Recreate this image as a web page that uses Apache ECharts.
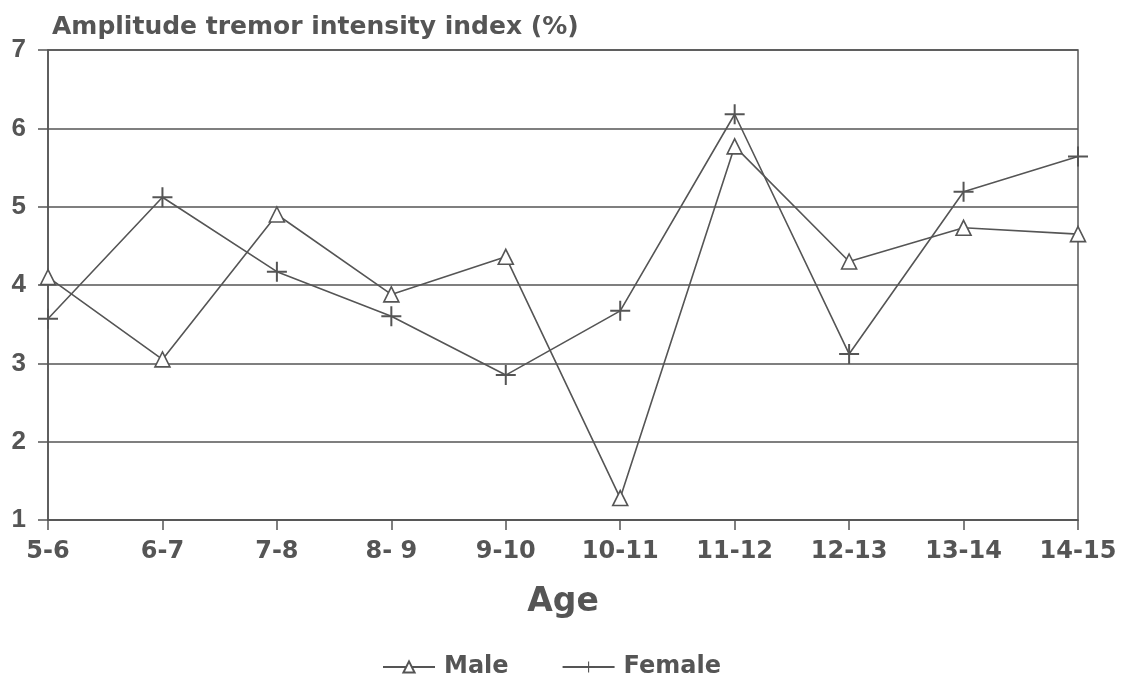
<!DOCTYPE html>
<html>
<head>
<meta charset="utf-8">
<script src="https://cdn.jsdelivr.net/npm/echarts@6/dist/echarts.min.js"></script>
<style>
html,body{margin:0;padding:0;background:#fff;}
#chart{width:1123px;height:688px;}
</style>
</head>
<body>
<div id="chart"></div>
<script>
var ageGroups = ['5-6', '6-7', '7-8', '8- 9', '9-10', '10-11', '11-12', '12-13', '13-14', '14-15'];
var maleValues = [4.1, 3.05, 4.9, 3.88, 4.36, 1.28, 5.77, 4.3, 4.73, 4.65];
var femaleValues = [3.57, 5.12, 4.17, 3.6, 2.85, 3.67, 6.18, 3.12, 5.19, 5.64];

var ink = '#555';
var font = 'DejaVu Sans';
var plusPath = 'path://M-1,-10h2v20h-2zM-10,-1h20v2h-20z';

var chart = echarts.init(document.getElementById('chart'));

var option = {
	backgroundColor: '#fff',
	animation: false,
	title: {
		text: 'Amplitude tremor intensity index (%)',
		left: 47,
		top: 10,
		textStyle: {color: ink, fontSize: 25, fontWeight: 'bold', fontFamily: font}
	},
	grid: {
		left: 48,
		right: 45,
		top: 50,
		bottom: 168,
		show: true,
		borderColor: ink,
		borderWidth: 1.5
	},
	legend: {
		bottom: 4,
		left: 377,
		itemGap: 53,
		itemWidth: 52,
		itemHeight: 14,
		textStyle: {color: ink, fontSize: 24, fontWeight: 'bold', fontFamily: font, padding: [0, 0, 0, 4]},
		data: ['Male', 'Female']
	},
	xAxis: {
		type: 'category',
		data: ageGroups,
		boundaryGap: false,
		name: 'Age',
		nameLocation: 'middle',
		nameGap: 66,
		nameTextStyle: {color: ink, fontSize: 33, fontWeight: 'bold', fontFamily: font},
		axisLine: {lineStyle: {color: ink, width: 1.5}},
		axisTick: {length: 10, lineStyle: {color: ink, width: 1.5}},
		axisLabel: {color: ink, fontSize: 24, fontWeight: 'bold', fontFamily: font, margin: 20, interval: 0},
		splitLine: {show: false}
	},
	yAxis: {
		type: 'value',
		min: 1,
		max: 7,
		interval: 1,
		axisLine: {show: true, lineStyle: {color: ink, width: 1.5}},
		axisTick: {show: true, length: 10, lineStyle: {color: ink, width: 1.5}},
		axisLabel: {color: ink, fontSize: 26, fontWeight: 'bold', fontFamily: 'Liberation Sans', margin: 22},
		splitLine: {lineStyle: {color: ink, width: 1.5}}
	},
	series: [
		{
			name: 'Male',
			type: 'line',
			data: maleValues,
			symbol: 'triangle',
			symbolSize: 15,
			showAllSymbol: true,
			lineStyle: {color: ink, width: 1.6},
			itemStyle: {color: '#fff', borderColor: ink, borderWidth: 1.6}
		},
		{
			name: 'Female',
			type: 'line',
			data: femaleValues,
			symbol: plusPath,
			symbolSize: 20,
			showAllSymbol: true,
			lineStyle: {color: ink, width: 1.6},
			itemStyle: {color: ink, borderWidth: 0}
		}
	]
};

chart.setOption(option);
</script>
</body>
</html>
